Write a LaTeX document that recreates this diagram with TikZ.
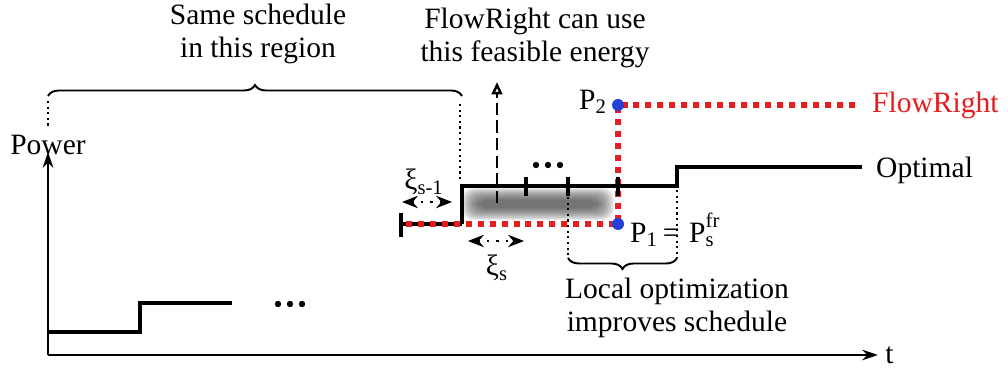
\documentclass[tikz,border=0pt]{standalone}
\usepackage{fontspec}
\setmainfont{Liberation Serif}
\usetikzlibrary{arrows.meta,decorations.pathreplacing}
\definecolor{frred}{RGB}{232,28,28}
\definecolor{ptblue}{RGB}{36,64,214}

\begin{document}
\begin{tikzpicture}[x=0.02cm, y=-0.02cm,
    font=\fontsize{16.8}{19}\selectfont,
    sched/.style={line width=1.8pt},
    frline/.style={frred, line width=3.4pt, dash pattern=on 3.4pt off 3.4pt},
    guide/.style={dotted, line width=1.2pt},
    span/.style={line width=1.3pt, dash pattern=on 1.3pt off 4pt, {Stealth[length=9pt,width=7pt]}-{Stealth[length=9pt,width=7pt]}},
    curly/.style={decorate, decoration={brace, amplitude=0.22cm}, line width=1.1pt}]
    \useasboundingbox (0,0) rectangle (1008,374);

    % axes
    \coordinate (o) at (48,355);
    \draw[line width=1.6pt, -{Stealth[length=9pt,width=6pt]}] (o) -- (878,355) node[right] (t) {t};
    \draw[line width=1.6pt, -{Stealth[length=9pt,width=6pt]}] (o) -- (48,152);
    \node (power) at (48,145) {Power};

    % early schedule
    \draw[sched] (48,332) -- (140,332) -- (140,303) -- (232,303);
    \foreach \dx in {-12,0,12} \fill (290+\dx,304) circle (3.2);

    % feasible energy (blurred)
    \foreach \i in {0,...,11}
        \fill[black!75, opacity=0.1, rounded corners=6pt]
            ({462+\i*1.5},{188+\i*1.1}) rectangle ({614-\i*1.5},{220-\i*1.1});

    % flowright schedule
    \coordinate (p1) at (618,224);
    \coordinate (p2) at (618,105);
    \draw[sched] (400,224) -- (462,224);
    \draw[frline] (406,224) -- (p1) -- (p2) -- (856,105);
    \node[anchor=west, text=frred] (fr) at (866,105) {FlowRight};

    % optimal schedule
    \draw[sched] (401,213) -- (401,237);
    \draw[sched] (462,224) -- (462,186) -- (677,186) -- (677,167) -- (862,167);
    \foreach \tx in {526,568,618} \draw[sched] (\tx,177) -- (\tx,196);
    \node[anchor=west] (opt) at (870,170) {Optimal};
    \foreach \dx in {-12,0,12} \fill (548+\dx,165) circle (3.2);

    \fill[ptblue] (p1) circle (6);
    \fill[ptblue] (p2) circle (6);
    \node[anchor=east] (lp2) at (613,102) {P\textsubscript{2}};
    \node[anchor=west] (lp1) at (624,230) {P\textsubscript{1}\,=\,\,P\rlap{\raisebox{2pt}{\textsuperscript{fr}}}\textsubscript{s}};

    % slot widths
    \node (xa) at (424,182) {ξ\textsubscript{s-1}};
    \draw[span] (402,202) -- (452,202);
    \draw[span] (468,241) -- (524,241);
    \node (xb) at (497,268) {ξ\textsubscript{s}};

    % same schedule region
    \draw[guide] (48,101) -- (48,128);
    \draw[guide] (460,104) -- (460,180);
    \draw[curly] (48,96) -- (462,96);
    \node[align=center] (same) at (258,34) {Same schedule\\in this region};

    % usable energy
    \draw[line width=1.4pt, dash pattern=on 7pt off 3pt, -{Triangle[open,length=7pt,width=6pt]}] (497,203) -- (497,82);
    \node[align=center] (use) at (535,38) {FlowRight can use\\this feasible energy};

    % local optimization
    \draw[guide] (568,197) -- (568,258);
    \draw[guide] (677,190) -- (677,258);
    \draw[curly] (677,258) -- (568,258);
    \node[align=center] (loc) at (677,308) {Local optimization\\improves schedule};
\end{tikzpicture}
\end{document}
